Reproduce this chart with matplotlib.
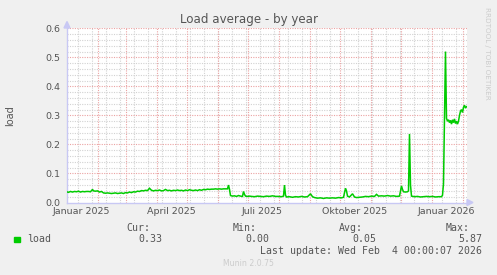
import matplotlib
matplotlib.use("Agg")
import matplotlib.pyplot as plt
from matplotlib.patches import Polygon

# ---------------- data ----------------
title = "Load average - by year"
ylabel = "load"
month_label_days = [15, 105, 196, 288, 380]
month_labels = ["Januar 2025", "April 2025", "Juli 2025", "Oktober 2025", "Januar 2026"]
month_start_days = [0, 31, 59, 90, 120, 151, 181, 212, 243, 273, 304, 334, 365, 396]
y_ticks = [0.0, 0.1, 0.2, 0.3, 0.4, 0.5, 0.6]

days = [0, 2, 4, 6, 8, 10, 12, 14, 16, 18, 20, 22, 24,
        26, 27, 29, 31, 33, 35, 37, 39, 41, 43, 45, 47, 49, 51, 53, 55, 57, 59,
        61, 63, 65, 67, 69, 71, 73, 75, 77, 79, 81, 83, 85, 87, 89, 91, 93, 95,
        97, 99, 101, 103, 105, 107, 109, 111, 113, 115, 117, 119, 121, 123, 125,
        127, 129, 131, 133, 135, 137, 139, 141, 143, 145, 147, 149, 151, 153,
        155, 157, 159, 161,
        162, 163, 164, 166, 168, 170, 172, 174, 176,
        177, 178, 179, 181, 183, 185, 188, 191, 194, 197, 200, 203, 206, 209,
        212, 215, 217,
        218, 219, 220, 223, 226, 229, 232, 235, 238, 241,
        244, 246, 248, 251, 254, 257, 260, 263, 266, 269, 272, 275, 277,
        279, 280, 281, 283,
        286, 288, 290, 293, 296, 299, 302, 305, 308,
        310, 312, 315, 318, 321, 324, 327, 330, 333,
        335, 336, 337, 339, 341, 342,
        343, 344, 345, 348, 351, 354, 357, 360, 363, 366, 369, 372, 375, 376,
        377, 378, 379, 380, 381, 382, 383, 384, 385, 386, 387, 388, 389, 390,
        391, 392, 393, 394, 395, 396, 397, 398, 399, 400]
load = [0.037, 0.035, 0.038, 0.036, 0.038, 0.037, 0.039, 0.036, 0.038, 0.037, 0.038, 0.038, 0.037,
        0.045, 0.040, 0.039, 0.040, 0.036, 0.038, 0.033, 0.032, 0.033, 0.032, 0.031, 0.032, 0.033,
        0.031, 0.032, 0.033, 0.031, 0.034,
        0.033, 0.036, 0.034, 0.037, 0.036, 0.039, 0.038, 0.041, 0.040, 0.042, 0.041, 0.049, 0.042,
        0.040, 0.042, 0.041, 0.043, 0.040,
        0.041, 0.045, 0.041, 0.042, 0.040, 0.042, 0.041, 0.043, 0.041, 0.042, 0.040, 0.043, 0.041,
        0.044, 0.042,
        0.041, 0.043, 0.041, 0.044, 0.042, 0.045, 0.044, 0.046, 0.045, 0.046, 0.046, 0.047, 0.046,
        0.047, 0.046, 0.047, 0.047, 0.047,
        0.060, 0.045, 0.024, 0.022, 0.023, 0.021, 0.024, 0.022, 0.021,
        0.038, 0.028, 0.022, 0.021, 0.022, 0.021, 0.020, 0.022, 0.021, 0.020, 0.022, 0.021, 0.023,
        0.021, 0.021, 0.020, 0.022,
        0.060, 0.025, 0.019, 0.020, 0.018, 0.020, 0.019, 0.021, 0.019, 0.020,
        0.030, 0.020, 0.017, 0.015, 0.016, 0.014, 0.016, 0.015, 0.016, 0.015, 0.017, 0.016, 0.018,
        0.049, 0.040, 0.022, 0.019,
        0.030, 0.019, 0.017, 0.018, 0.019, 0.021, 0.020, 0.022, 0.021,
        0.028, 0.022, 0.023, 0.022, 0.024, 0.022, 0.023, 0.021, 0.022,
        0.057, 0.045, 0.037, 0.036, 0.037, 0.040,
        0.236, 0.060, 0.022, 0.020, 0.021, 0.019, 0.020, 0.021, 0.020, 0.021, 0.019, 0.020, 0.020,
        0.025,
        0.065, 0.300, 0.520, 0.290, 0.280, 0.285, 0.275, 0.283, 0.270, 0.285, 0.275, 0.288, 0.272,
        0.280,
        0.270, 0.280, 0.300, 0.315, 0.320, 0.310, 0.328, 0.335, 0.325, 0.330]

legend_name = "load"
stat_headers = ["Cur:", "Min:", "Avg:", "Max:"]
stat_values = ["0.33", "0.00", "0.05", "5.87"]
last_update = "Last update: Wed Feb  4 00:00:07 2026"
footer = "Munin 2.0.75"
side_text = "RRDTOOL / TOBI OETIKER"

# ---------------- figure ----------------
W, H = 497, 275
BG = "#f0f0f0"
TXT = "#555555"
GREEN = "#00cc00"
AXC = "#c8c8f4"
fig = plt.figure(figsize=(W / 100, H / 100), dpi=100, facecolor=BG)

left, right, top, bottom = 67, 467, 28.3, 202.5
ax = fig.add_axes([left / W, 1 - bottom / H, (right - left) / W, (bottom - top) / H])
ax.set_facecolor("white")
ax.set_xlim(0.5, 400.5)
ax.set_ylim(0, 0.6)

# grid
for d in range(11, 401, 14):
    ax.axvline(d + 0.5, color="#d2d2d2", lw=0.8, ls=(0, (1, 1.2)), zorder=1)
for k in range(1, 31):
    v = k * 0.02
    if k % 5:
        ax.axhline(v, color="#d2d2d2", lw=0.8, ls=(0, (1, 1.2)), zorder=1)
for d in month_start_days[1:]:
    ax.axvline(d + 0.5, color="#eba3a3", lw=0.8, ls=(0, (1, 1.2)), zorder=2)
for v in y_ticks[1:]:
    ax.axhline(v, color="#eba3a3", lw=0.8, ls=(0, (1, 1.2)), zorder=2)

ax.plot(days, load, color=GREEN, lw=1.1, zorder=3, solid_joinstyle="miter")

for s in ["top", "right"]:
    ax.spines[s].set_visible(False)
for s in ["left", "bottom"]:
    ax.spines[s].set_color(AXC)
    ax.spines[s].set_linewidth(1.0)

ax.set_yticks(y_ticks)
ax.set_yticklabels([f"{v:.1f}" for v in y_ticks])
ax.set_xticks(month_label_days)
ax.set_xticklabels(month_labels)
ax.tick_params(axis="both", length=0, colors=TXT, labelsize=6.8)
ax.tick_params(axis="y", pad=5)
ax.tick_params(axis="x", pad=3)


def fx(x):
    return x / W


def fy(y):
    return 1 - y / H


# arrows on axes
fig.patches.append(Polygon([(fx(64), fy(28)), (fx(70), fy(28)), (fx(67), fy(21.5))],
                           closed=True, transform=fig.transFigure, color=AXC, zorder=5))
fig.patches.append(Polygon([(fx(467), fy(199.5)), (fx(467), fy(205.5)), (fx(473), fy(202.5))],
                           closed=True, transform=fig.transFigure, color=AXC, zorder=5))

fig.text(fx(248.5), fy(19), title, ha="center", va="center", color=TXT, fontsize=8.6)
fig.text(fx(10), fy(115.5), ylabel, ha="center", va="center", rotation=90, color=TXT, fontsize=7)
fig.text(fx(487.5), fy(53), side_text, ha="center", va="center", rotation=270,
         color="#cccccc", fontsize=5.2)

mono = "DejaVu Sans Mono"
fs = 7.1
fig.patches.append(plt.Rectangle((fx(14), fy(242.3)), 5.5 / W, 5.5 / H,
                                 transform=fig.transFigure, color=GREEN))
fig.text(fx(27), fy(239), legend_name, ha="left", va="center", family=mono, fontsize=fs, color=TXT)
hdr_right = [150, 257, 363, 470]
val_right = [162, 269, 376, 482]
for h, xr in zip(stat_headers, hdr_right):
    fig.text(fx(xr), fy(227.7), h, ha="right", va="center", family=mono, fontsize=fs, color=TXT)
for v, xr in zip(stat_values, val_right):
    fig.text(fx(xr), fy(239), v, ha="right", va="center", family=mono, fontsize=fs, color=TXT)
fig.text(fx(482), fy(251), last_update, ha="right", va="center", family=mono, fontsize=fs, color=TXT)
fig.text(fx(248), fy(264), footer, ha="center", va="center", color="#cccccc", fontsize=5.6)

fig.savefig("out.png", dpi=100, facecolor=BG)
